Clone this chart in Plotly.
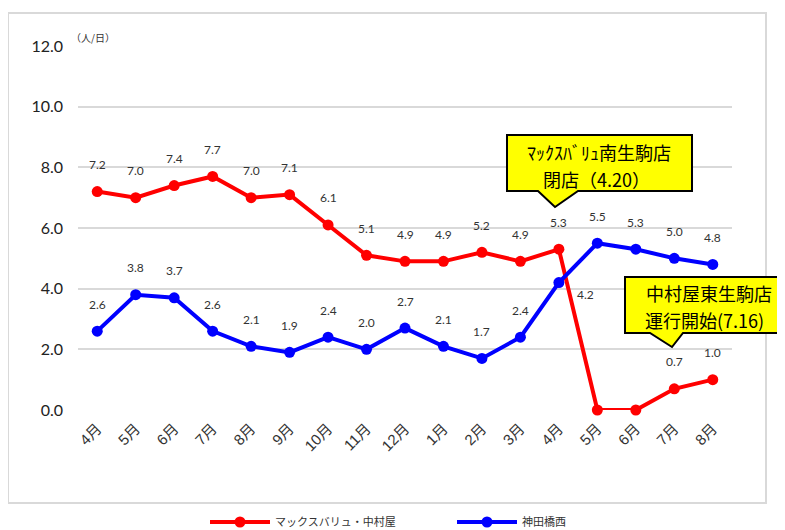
import plotly.graph_objects as go

months = ["4月", "5月", "6月", "7月", "8月", "9月", "10月", "11月", "12月", "1月",
          "2月", "3月", "4月", "5月", "6月", "7月", "8月"]
red_name = "マックスバリュ・中村屋"
blue_name = "神田橋西"
red_vals = [7.2, 7.0, 7.4, 7.7, 7.0, 7.1, 6.1, 5.1, 4.9, 4.9, 5.2, 4.9, 5.3, 0.0, 0.0, 0.7, 1.0]
blue_vals = [2.6, 3.8, 3.7, 2.6, 2.1, 1.9, 2.4, 2.0, 2.7, 2.1, 1.7, 2.4, 4.2, 5.5, 5.3, 5.0, 4.8]
y_ticks = [0, 2, 4, 6, 8, 10, 12]
callout1 = ["ﾏｯｸｽﾊﾞﾘｭ南生駒店", "閉店（4.20）"]
callout2 = ["中村屋東生駒店", "運行開始(7.16)"]

W, H = 785, 530
OFF = 8  # page body margin
PL, PT, PW, PH = 78, 46, 654, 364  # plot area in page pixels
L, T = PL - OFF, PT - OFF
R, B = W - L - PW, H - T - PH

def px(x):
    return (x - PL) / PW

def py(y):
    return (PT + PH - y) / PH

idx = list(range(len(months)))
num_font = "Lato, Liberation Sans, sans-serif"
jp_font = "Noto Sans CJK JP, sans-serif"

fig = go.Figure()
fig.add_trace(go.Scatter(x=idx, y=red_vals, mode="lines+markers", name=red_name,
                         line=dict(color="#ff0000", width=4),
                         marker=dict(color="#ff0000", size=11), cliponaxis=False))
fig.add_trace(go.Scatter(x=idx, y=blue_vals, mode="lines+markers", name=blue_name,
                         line=dict(color="#0000ff", width=4),
                         marker=dict(color="#0000ff", size=11), cliponaxis=False))

annotations = []
for i, v in enumerate(red_vals):
    if v > 0:
        annotations.append(dict(x=i, y=v, text=f"{v:.1f}", showarrow=False, yshift=27,
                                font=dict(family=num_font, size=12, color="#333333")))
for i, v in enumerate(blue_vals):
    if i == 12:
        annotations.append(dict(x=i, y=v, text=f"{v:.1f}", showarrow=False, xshift=27, yshift=-12,
                                font=dict(family=num_font, size=12, color="#333333")))
    else:
        annotations.append(dict(x=i, y=v, text=f"{v:.1f}", showarrow=False, yshift=27,
                                font=dict(family=num_font, size=12, color="#333333")))

annotations.append(dict(xref="paper", yref="paper", x=px(69), y=py(37), xanchor="left",
                        yanchor="middle", text="（人/日）", showarrow=False,
                        font=dict(family=jp_font, size=10, color="#333333")))

# callout texts
for txt, cx, cy in [(callout1[0], 599, 152), (callout1[1], 596, 179),
                    (callout2[0], 709, 293), (callout2[1], 704, 320)]:
    annotations.append(dict(xref="paper", yref="paper", x=px(cx), y=py(cy), xanchor="center",
                            yanchor="middle", showarrow=False, text=txt,
                            font=dict(family=jp_font, size=18, color="#000000")))

def callout(x0, x1, y0, y1, tl, tip, tr, tipy):
    pts = [(x0, y0), (x1, y0), (x1, y1), (tr, y1), (tip, tipy), (tl, y1), (x0, y1)]
    path = "M " + " L ".join(f"{px(a):.5f},{py(b):.5f}" for a, b in pts) + " Z"
    return dict(type="path", xref="paper", yref="paper", path=path,
                fillcolor="#ffff00", line=dict(color="#000000", width=2), layer="above")

shapes = [
    dict(type="rect", xref="paper", yref="paper", x0=px(8), x1=px(766), y0=py(503), y1=py(13),
         line=dict(color="#d9d9d9", width=2), fillcolor="rgba(0,0,0,0)", layer="below"),
    callout(507, 692, 135, 191, 538, 555, 578, 207),
    callout(625, 783, 277, 333, 650, 672, 683, 347),
]

fig.update_layout(
    width=W, height=H,
    margin=dict(l=L, r=R, t=T, b=B, autoexpand=False),
    paper_bgcolor="white", plot_bgcolor="white",
    showlegend=True,
    legend=dict(orientation="h", x=px(205), y=py(522), xanchor="left", yanchor="middle",
                font=dict(family=jp_font, size=11, color="#333333"),
                entrywidth=172, entrywidthmode="pixels", itemwidth=60),
    xaxis=dict(range=[-0.5, len(months) - 0.5], tickmode="array", tickvals=idx, ticktext=months,
               tickangle=-45, showgrid=False, zeroline=False, showline=False, ticks="",
               tickfont=dict(family="Liberation Sans, Noto Sans CJK JP, sans-serif", size=15,
                             color="#333333"),
               ticklabelstandoff=6),
    yaxis=dict(range=[0, 12], tickvals=y_ticks, tickformat=".1f", showgrid=True,
               gridcolor="#d9d9d9", gridwidth=2, zeroline=False, showline=False,
               tickfont=dict(family=num_font, size=16, color="#222222"),
               ticklabelstandoff=14),
    annotations=annotations,
    shapes=shapes,
)

fig.write_html("out.html")
